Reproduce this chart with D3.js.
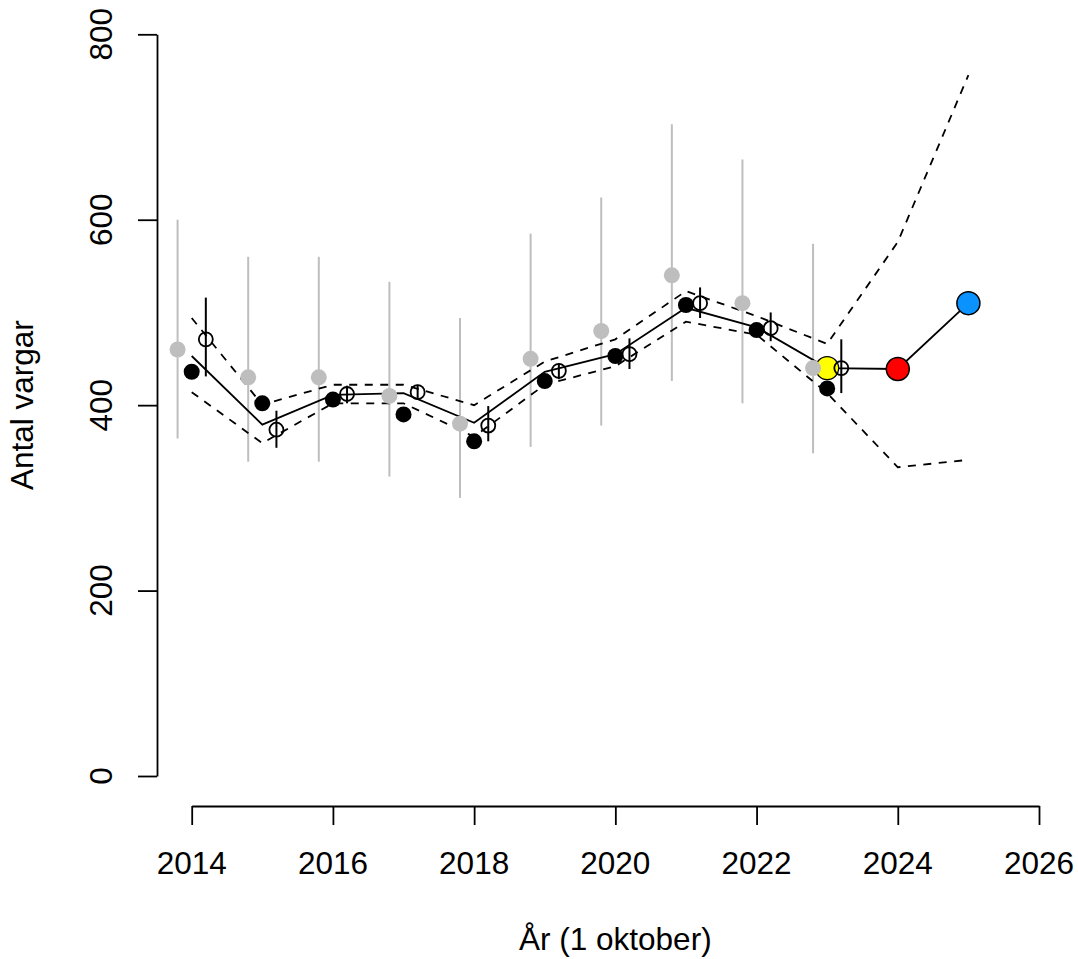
<!DOCTYPE html>
<html>
<head>
<meta charset="utf-8">
<script src="https://cdn.jsdelivr.net/npm/d3@7"></script>
<style>
  html, body { margin: 0; padding: 0; background: #fff; }
  text { font-family: "Liberation Sans", Arial, sans-serif; fill: #000; }
</style>
</head>
<body>
<svg id="chart" width="1078" height="959"></svg>
<script>
// ---------- data ----------
const years = [2014, 2015, 2016, 2017, 2018, 2019, 2020, 2021, 2022, 2023];
// grey estimates (plotted slightly before the year) with intervals
const greyEst = [460, 430, 430, 410, 380, 450, 480, 540, 510, 440];
const greyLo  = [364, 339, 339, 323, 300, 355, 378, 426, 402, 348];
const greyHi  = [600, 560, 560, 533, 494, 585, 624, 703, 665, 574];
// observed counts (filled black)
const observed = [436, 402, 406, 390, 361, 426, 453, 508, 481, 418];
// model estimates (open circles, plotted slightly after the year) with intervals
const modelEst = [471, 373.5, 412, 414, 378, 437, 455, 510, 483, 440];
const modelLo  = [431, 354, 402, 406, 361, 428, 439, 494, 469, 413];
const modelHi  = [516, 394, 421, 422, 399, 445, 472, 527, 500, 471];
// trend line with interval and forecast
const trendYears = [2014, 2015, 2016, 2017, 2018, 2019, 2020, 2021, 2022, 2023, 2024, 2025];
const trendMean  = [453, 379, 411, 413, 381, 436, 455, 505, 484, 440, 439, 510];
const trendUpper = [494, 400.5, 422, 422, 400, 447, 471, 523, 496, 466, 576, 756];
const trendLower = [414, 359, 402, 402, 366, 422, 442, 490, 476, 413, 333, 341];
// highlighted points
const highlightYears  = [2023, 2024, 2025];
const highlightValues = [440, 439, 510];
// axis ticks
const xTicks = [2014, 2016, 2018, 2020, 2022, 2024, 2026];
const yTicks = [0, 200, 400, 600, 800];
const xTitle = "År (1 oktober)";
const yTitle = "Antal vargar";

// ---------- styles ----------
const highlightFill = d3.scaleOrdinal().domain(highlightYears).range(["#FFFF00", "#FF0000", "#0A93FF"]);
const offset = 0.2;
const grey = "#BEBEBE";
const fontSize = "31.5px";
const lw = 1.8;

// ---------- scales ----------
const svg = d3.select("#chart");
svg.append("rect").attr("width", 1078).attr("height", 959).attr("fill", "#fff");

const x = d3.scaleLinear().domain([2014, 2026]).range([191.7, 1039]);
const y = d3.scaleLinear().domain([0, 800]).range([776, 34.3]);

// ---------- axes ----------
const yAxis = d3.axisLeft(y).tickValues(yTicks).tickSize(19).tickSizeOuter(0).tickFormat("");
const gy = svg.append("g").attr("transform", "translate(157,0)").call(yAxis);
gy.selectAll("path, line").attr("stroke", "#000").attr("stroke-width", lw);

svg.append("g").selectAll("text").data(yTicks).join("text")
  .attr("transform", d => `translate(112,${y(d)}) rotate(-90)`)
  .attr("text-anchor", "middle")
  .style("font-size", fontSize)
  .text(d => d);

const xAxis = d3.axisBottom(x).tickValues(xTicks).tickSize(19).tickSizeOuter(0).tickFormat("");
const gx = svg.append("g").attr("transform", "translate(0,806)").call(xAxis);
gx.selectAll("path, line").attr("stroke", "#000").attr("stroke-width", lw);

svg.append("g").selectAll("text").data(xTicks).join("text")
  .attr("x", d => x(d)).attr("y", 874)
  .attr("text-anchor", "middle")
  .style("font-size", fontSize)
  .text(d => d);

svg.append("text").attr("x", (x(2014) + x(2026)) / 2).attr("y", 950)
  .attr("text-anchor", "middle").style("font-size", fontSize).text(xTitle);
svg.append("text").attr("transform", `translate(33,${(y(0) + y(800)) / 2}) rotate(-90)`)
  .attr("text-anchor", "middle").style("font-size", fontSize).text(yTitle);

// ---------- plot content ----------
const g = svg.append("g");

// grey intervals and points
g.selectAll(".gbar").data(years).join("line")
  .attr("x1", (d) => x(d - offset)).attr("x2", (d) => x(d - offset))
  .attr("y1", (d, i) => y(greyLo[i])).attr("y2", (d, i) => y(greyHi[i]))
  .attr("stroke", grey).attr("stroke-width", 2);

// trend lines
const line = d3.line().x(d => x(d[0])).y(d => y(d[1]));
g.append("path").datum(trendYears.map((t, i) => [t, trendUpper[i]]))
  .attr("d", line).attr("fill", "none").attr("stroke", "#000").attr("stroke-width", lw)
  .attr("stroke-dasharray", "8,7.5");
g.append("path").datum(trendYears.map((t, i) => [t, trendLower[i]]))
  .attr("d", line).attr("fill", "none").attr("stroke", "#000").attr("stroke-width", lw)
  .attr("stroke-dasharray", "8,7.5");
g.append("path").datum(trendYears.map((t, i) => [t, trendMean[i]]))
  .attr("d", line).attr("fill", "none").attr("stroke", "#000").attr("stroke-width", lw);

// first highlighted (yellow) under the other markers
g.append("circle")
  .attr("cx", x(highlightYears[0])).attr("cy", y(highlightValues[0])).attr("r", 11.5)
  .attr("fill", highlightFill(highlightYears[0])).attr("stroke", "#000").attr("stroke-width", 1.3);

g.selectAll(".gpt").data(years).join("circle")
  .attr("cx", d => x(d - offset)).attr("cy", (d, i) => y(greyEst[i])).attr("r", 8)
  .attr("fill", grey);

// observed
g.selectAll(".obs").data(years).join("circle")
  .attr("cx", d => x(d)).attr("cy", (d, i) => y(observed[i])).attr("r", 8)
  .attr("fill", "#000");

// model intervals and open circles
g.selectAll(".mbar").data(years).join("line")
  .attr("x1", d => x(d + offset)).attr("x2", d => x(d + offset))
  .attr("y1", (d, i) => y(modelLo[i])).attr("y2", (d, i) => y(modelHi[i]))
  .attr("stroke", "#000").attr("stroke-width", 2);
g.selectAll(".mpt").data(years).join("circle")
  .attr("cx", d => x(d + offset)).attr("cy", (d, i) => y(modelEst[i])).attr("r", 7)
  .attr("fill", "none").attr("stroke", "#000").attr("stroke-width", 1.8);

// forecast highlights
g.selectAll(".hl").data(highlightYears.slice(1)).join("circle")
  .attr("cx", d => x(d)).attr("cy", (d, i) => y(highlightValues[i + 1])).attr("r", 11.5)
  .attr("fill", d => highlightFill(d)).attr("stroke", "#000").attr("stroke-width", 1.5);
</script>
</body>
</html>
